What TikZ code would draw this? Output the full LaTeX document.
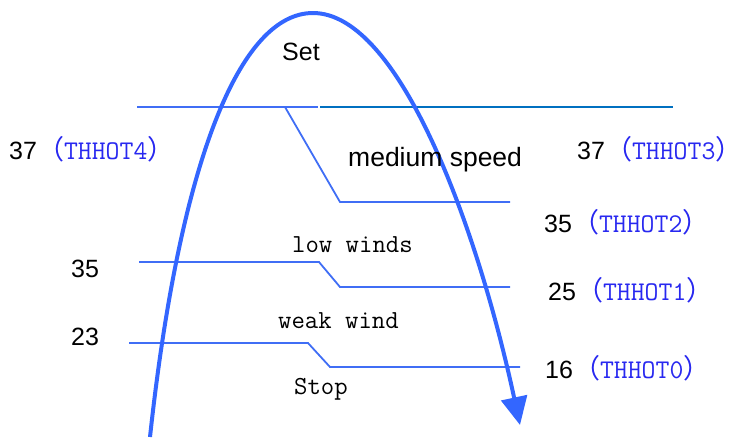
\documentclass[tikz,border=0pt]{standalone}
\usepackage{fontspec}
\setmainfont{Liberation Sans}
\newfontfamily\cjk{Noto Sans CJK SC}
\usepackage{tikz}
\usetikzlibrary{arrows.meta, positioning}
\usepackage{xcolor}
\definecolor{colcurve}{RGB}{51,102,255}
\definecolor{colline}{RGB}{64,110,245}
\definecolor{coldeep}{RGB}{0,112,192}
\definecolor{coltext}{RGB}{40,40,240}
\newcommand{\thot}[1]{\textcolor{coltext}{\fontsize{27}{30}\selectfont
  {\cjk （}{\ttfamily THHOT#1}{\cjk ）}}}

\begin{document}
\begin{tikzpicture}[
  x=1pt, y=-1pt,
  lbl/.style={inner sep=0pt, anchor=base west, font=\fontsize{25}{30}\selectfont},
  mono/.style={lbl, font=\fontsize{26}{30}\selectfont\ttfamily},
  thin/.style={colline, line width=1.8pt},
  deep/.style={coldeep, line width=2pt},
  curve/.style={colcurve, line width=4pt, -{Triangle[length=28pt, width=26pt]}}
]
\useasboundingbox (0,0) rectangle (731,437);

% Threshold lines
\coordinate (t0) at (137,107);
\coordinate (t1) at (318,107);
\coordinate (t2) at (320,107);
\coordinate (t3) at (673,107);
\coordinate (b0) at (285,107);
\coordinate (b1) at (340,202);
\coordinate (b2) at (510,202);
\coordinate (m0) at (139,262);
\coordinate (m1) at (319,262);
\coordinate (m2) at (340,287);
\coordinate (m3) at (510,287);
\coordinate (w0) at (129,343);
\coordinate (w1) at (308,343);
\coordinate (w2) at (330,367);
\coordinate (w3) at (520,367);

\draw[thin] (t0) -- (t1);
\draw[deep] (t2) -- (t3);
\draw[thin] (b0) -- (b1) -- (b2);
\draw[thin] (m0) -- (m1) -- (m2) -- (m3);
\draw[thin] (w0) -- (w1) -- (w2) -- (w3);

% Rise and fall curve
\coordinate (start) at (150,437);
\coordinate (apex)  at (313,13);
\coordinate (tip)   at (520,425);
\draw[curve] (start) .. controls (180,160) and (240,13) .. (apex)
             .. controls (400,13) and (478,230) .. (tip);

% Mode labels
\node[lbl]  (set)    at (282,60)  {Set};
\node[lbl, font=\fontsize{26.5}{30}\selectfont] (medium) at (348,166) {medium speed};
\node[mono] (low)    at (292,252) {low winds};
\node[mono] (weak)   at (278,328) {weak wind};
\node[mono] (stop)   at (294,394) {Stop};

% Temperature labels
\node[lbl] (th4) at (9,159)   {37\thot{4}};
\node[lbl] (th3) at (577,159) {37\thot{3}};
\node[lbl] (th2) at (544,232) {35\thot{2}};
\node[lbl] (th1) at (548,300) {25\thot{1}};
\node[lbl] (th0) at (545,378) {16\thot{0}};
\node[lbl] (lo35) at (71,277) {35};
\node[lbl] (lo23) at (71,345) {23};
\end{tikzpicture}
\end{document}
